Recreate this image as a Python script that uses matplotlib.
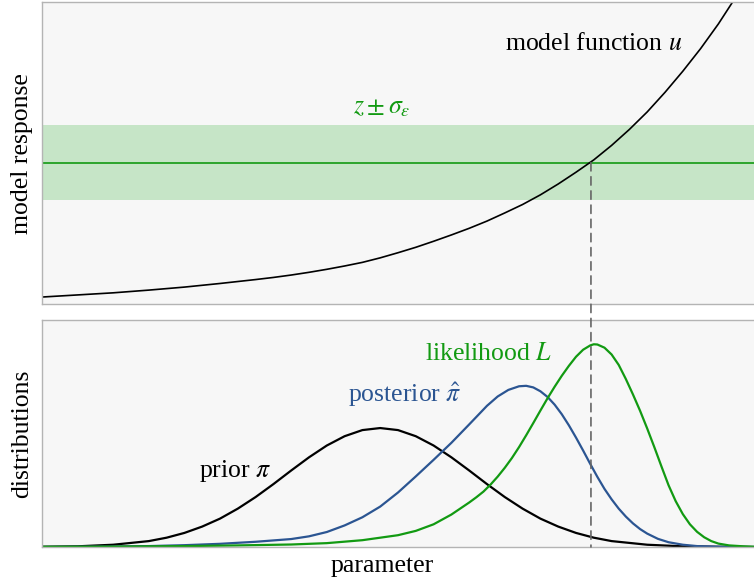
import numpy as np
import matplotlib
matplotlib.use("Agg")
import matplotlib.pyplot as plt
from matplotlib.patches import ConnectionPatch

plt.rcParams["font.family"] = ["Liberation Serif", "DejaVu Serif"]
plt.rcParams["mathtext.fontset"] = "stix"

# model response u(theta)
theta_u = [0.0, 0.5, 1.0, 1.5, 2.0, 2.5, 3.0, 3.25, 3.5, 3.75, 4.0, 4.25, 4.5,
           4.75, 5.0, 5.25, 5.5, 5.75, 6.0, 6.25, 6.5, 6.75, 7.0, 7.25, 7.5,
           7.75, 8.0, 8.25, 8.5, 8.75, 9.0, 9.25, 9.5, 9.75]
u_vals = [0.23, 0.30, 0.37, 0.46, 0.56, 0.68, 0.81, 0.88, 0.96, 1.05, 1.15,
          1.26, 1.38, 1.53, 1.70, 1.88, 2.08, 2.29, 2.51, 2.75, 3.02, 3.30,
          3.62, 3.98, 4.37, 4.78, 5.26, 5.79, 6.37, 7.02, 7.72, 8.47, 9.29,
          10.2]

# observation and noise level
z_obs = 4.69
sigma_eps = 1.25
theta_hit = 7.71

# prior density
theta_prior = [0.0, 0.5, 1.0, 1.5, 1.75, 2.0, 2.25, 2.5, 2.75, 3.0, 3.25, 3.5,
               3.75, 4.0, 4.25, 4.5, 4.75, 5.0, 5.25, 5.5, 5.75, 6.0, 6.25,
               6.5, 6.75, 7.0, 7.25, 7.5, 7.75, 8.0, 8.5, 9.0, 9.5, 10.0]
prior = [0.001, 0.003, 0.010, 0.026, 0.041, 0.062, 0.090, 0.125, 0.169,
         0.220, 0.277, 0.337, 0.395, 0.447, 0.488, 0.515, 0.524, 0.515,
         0.488, 0.447, 0.395, 0.337, 0.277, 0.220, 0.169, 0.125, 0.090,
         0.062, 0.041, 0.026, 0.010, 0.003, 0.001, 0.000]

# posterior density
theta_post = [0.0, 1.0, 1.5, 2.0, 2.5, 3.0, 3.25, 3.5, 3.75, 4.0, 4.25, 4.5,
              4.75, 5.0, 5.25, 5.5, 5.75, 6.0, 6.25, 6.4, 6.55, 6.7, 6.8, 6.9,
              7.0, 7.1, 7.2, 7.3, 7.4, 7.5, 7.6, 7.7, 7.8, 7.9, 8.0, 8.1, 8.2,
              8.3, 8.4, 8.5, 8.65, 8.8, 9.0, 9.2, 9.5, 10.0]
posterior = [0.000, 0.002, 0.004, 0.008, 0.014, 0.023, 0.029, 0.035, 0.047,
             0.066, 0.095, 0.131, 0.178, 0.240, 0.311, 0.384, 0.459, 0.540,
             0.622, 0.663, 0.692, 0.708, 0.710, 0.703, 0.686, 0.661, 0.627,
             0.585, 0.536, 0.482, 0.425, 0.366, 0.309, 0.256, 0.210, 0.169,
             0.134, 0.104, 0.079, 0.059, 0.036, 0.021, 0.010, 0.004, 0.001,
             0.000]

# likelihood
theta_like = [0.0, 1.0, 2.0, 2.75, 3.5, 4.0, 4.5, 5.0, 5.25, 5.5, 5.75, 6.0,
              6.1, 6.2, 6.3, 6.4, 6.5, 6.6, 6.7, 6.8, 6.9, 7.0, 7.1, 7.2, 7.3,
              7.4, 7.5, 7.6, 7.7, 7.75, 7.8, 7.9, 8.0, 8.1, 8.2, 8.3, 8.4, 8.5,
              8.6, 8.7, 8.8, 8.9, 9.0, 9.1, 9.2, 9.3, 9.4, 9.5, 9.65, 9.85,
              10.0]
likelihood = [0.001, 0.002, 0.004, 0.007, 0.011, 0.017, 0.030, 0.052, 0.071,
              0.100, 0.143, 0.196, 0.219, 0.244, 0.275, 0.310, 0.349, 0.392,
              0.440, 0.492, 0.546, 0.601, 0.655, 0.706, 0.754, 0.798, 0.838,
              0.869, 0.888, 0.893, 0.892, 0.878, 0.848, 0.802, 0.740, 0.672,
              0.600, 0.522, 0.440, 0.355, 0.272, 0.202, 0.145, 0.100, 0.067,
              0.043, 0.026, 0.015, 0.007, 0.003, 0.001]

green = "#129a12"
band_green = "#c6e5c7"
blue = "#2b5592"
bg = "#f7f7f7"
spine_col = "#b4b4b4"
fs = 18.5

fig = plt.figure(figsize=(7.54, 5.80), dpi=100)
ax1 = fig.add_axes([0.0557, 0.4759, 0.9443, 0.5198])
ax2 = fig.add_axes([0.0557, 0.0569, 0.9443, 0.3914])

for ax in (ax1, ax2):
    ax.set_facecolor(bg)
    ax.set_xticks([])
    ax.set_yticks([])
    ax.set_xlim(0, 10)
    for s in ax.spines.values():
        s.set_color(spine_col)
        s.set_linewidth(1.0)
    ax.spines["right"].set_visible(False)

ax1.set_ylim(0, 10)
ax2.set_ylim(0, 1)

# top: model function and data band
ax1.axhspan(z_obs - sigma_eps, z_obs + sigma_eps, color=band_green, lw=0)
ax1.axhline(z_obs, color=green, lw=1.2)
ax1.plot(theta_u, u_vals, color="black", lw=1.2)
ax1.text(8.99, 8.42, r"model function $u$", ha="right", va="baseline",
         fontsize=fs)
ax1.text(4.77, 6.32, r"$z \pm \sigma_\varepsilon$", ha="center",
         va="baseline", fontsize=fs, color=green)
ax1.set_ylabel("model response", fontsize=fs)
ax1.yaxis.set_label_coords(-0.013, 0.5)

# bottom: distributions
ax2.plot(theta_prior, prior, color="black", lw=1.6)
ax2.plot(theta_post, posterior, color=blue, lw=1.6)
ax2.plot(theta_like, likelihood, color=green, lw=1.6)
ax2.text(2.71, 0.31, r"prior $\pi$", ha="center", va="baseline", fontsize=fs)
ax2.text(5.10, 0.64, r"posterior $\hat{\pi}$", ha="center", va="baseline",
         fontsize=fs, color=blue)
ax2.text(6.27, 0.824, r"likelihood $L$", ha="center", va="baseline",
         fontsize=fs, color=green)
ax2.set_ylabel("distributions", fontsize=fs)
ax2.yaxis.set_label_coords(-0.013, 0.5)
ax2.set_xlabel("parameter", fontsize=fs)
ax2.xaxis.label.set_va("baseline")
ax2.xaxis.set_label_coords(0.478, -0.109)

# dashed link from the crossing point down to the parameter axis
con = ConnectionPatch(xyA=(theta_hit, z_obs), coordsA=ax1.transData,
                      xyB=(theta_hit, 0), coordsB=ax2.transData,
                      color="#666666", lw=1.2, linestyle=(0, (5, 3.5)))
fig.add_artist(con)

fig.savefig("out.png", dpi=100)
